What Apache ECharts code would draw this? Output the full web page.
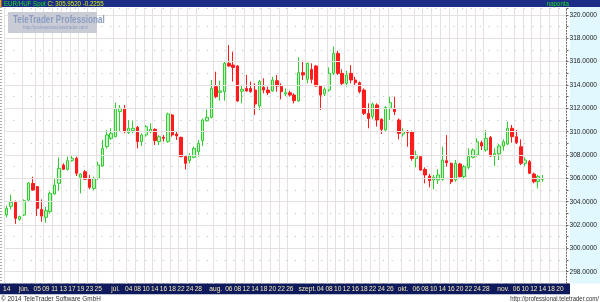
<!DOCTYPE html>
<html>
<head>
<meta charset="utf-8">
<script src="https://cdn.jsdelivr.net/npm/echarts@6/dist/echarts.min.js"></script>
<style>html,body{margin:0;padding:0;background:#fff;overflow:hidden}#c{width:600px;height:302px}</style>
</head>
<body>
<div id="c"></div>
<script>
// Trading days (categories); the last five are empty future slots
const dates = [
  '2014-05-27','2014-05-28','2014-05-29','2014-05-30',
  '2014-06-02','2014-06-03','2014-06-04','2014-06-05','2014-06-06','2014-06-09','2014-06-10','2014-06-11','2014-06-12','2014-06-13',
  '2014-06-16','2014-06-17','2014-06-18','2014-06-19','2014-06-20','2014-06-23','2014-06-24','2014-06-25','2014-06-26','2014-06-27','2014-06-30',
  '2014-07-01','2014-07-02','2014-07-03','2014-07-04','2014-07-07','2014-07-08','2014-07-09','2014-07-10','2014-07-11','2014-07-14','2014-07-15',
  '2014-07-16','2014-07-17','2014-07-18','2014-07-21','2014-07-22','2014-07-23','2014-07-24','2014-07-25','2014-07-28','2014-07-29','2014-07-30','2014-07-31',
  '2014-08-01','2014-08-04','2014-08-05','2014-08-06','2014-08-07','2014-08-08','2014-08-11','2014-08-12','2014-08-13','2014-08-14','2014-08-15',
  '2014-08-18','2014-08-19','2014-08-20','2014-08-21','2014-08-22','2014-08-25','2014-08-26','2014-08-27','2014-08-28','2014-08-29',
  '2014-09-01','2014-09-02','2014-09-03','2014-09-04','2014-09-05','2014-09-08','2014-09-09','2014-09-10','2014-09-11','2014-09-12','2014-09-15',
  '2014-09-16','2014-09-17','2014-09-18','2014-09-19','2014-09-22','2014-09-23','2014-09-24','2014-09-25','2014-09-26','2014-09-29','2014-09-30',
  '2014-10-01','2014-10-02','2014-10-03','2014-10-06','2014-10-07','2014-10-08','2014-10-09','2014-10-10','2014-10-13','2014-10-14','2014-10-15',
  '2014-10-16','2014-10-17','2014-10-20','2014-10-21','2014-10-22','2014-10-23','2014-10-24','2014-10-27','2014-10-28','2014-10-29','2014-10-30','2014-10-31',
  '2014-11-03','2014-11-04','2014-11-05','2014-11-06','2014-11-07','2014-11-10','2014-11-11','2014-11-12','2014-11-13','2014-11-14',
  '2014-11-17','2014-11-18','2014-11-19','2014-11-20','2014-11-21'
];

const opens = [
  302.86,303.60,303.95,302.49,302.86,304.14,305.57,305.29,303.34,302.66,
  303.14,304.66,305.57,307.14,306.77,307.52,307.72,306.09,306.57,306.00,
  305.14,306.00,307.06,308.72,309.43,309.57,311.72,312.00,309.92,310.09,
  310.37,309.15,309.72,310.00,310.20,309.15,309.52,309.15,311.43,309.80,
  309.52,307.86,307.52,307.80,308.29,309.23,310.94,311.23,313.86,313.37,
  313.43,315.86,315.71,315.63,313.46,313.71,313.71,313.57,312.20,313.80,
  313.57,313.49,314.37,313.86,313.23,313.34,313.14,312.63,315.06,314.49,
  315.34,315.63,313.91,313.23,313.57,315.00,316.71,315.00,314.14,315.00,
  314.43,314.20,313.57,311.57,311.29,312.29,311.06,310.14,312.00,312.00,
  311.00,309.80,310.00,310.00,307.71,307.86,306.77,306.20,305.86,305.86,
  305.91,307.51,307.29,305.86,307.23,306.14,306.94,307.80,308.00,309.06,
  308.43,309.51,307.91,308.09,308.77,308.94,310.29,309.57,308.71,307.29,
  307.43,306.37,305.71,305.92
];
const closes = [
  303.43,303.95,302.57,302.72,304.09,305.60,305.00,303.43,302.77,303.23,
  304.72,305.43,306.86,306.77,307.52,307.72,306.43,306.37,305.92,305.23,
  306.00,307.14,308.57,309.72,309.86,312.00,312.00,310.00,310.29,310.29,
  309.15,309.72,310.43,310.20,309.23,309.57,309.43,311.52,309.72,309.63,
  307.86,307.29,307.92,308.57,309.00,311.00,311.23,313.71,313.00,313.49,
  315.86,315.63,315.51,312.63,313.63,313.49,313.43,312.37,314.29,313.57,
  313.34,314.43,313.91,313.43,313.34,313.14,312.66,315.06,314.86,315.86,
  314.49,313.91,313.14,313.63,315.00,316.71,315.00,314.14,314.86,314.43,
  314.20,313.43,311.57,311.14,312.37,311.00,310.20,312.08,312.49,311.71,
  309.86,310.00,309.92,307.71,308.00,306.71,306.29,305.80,306.09,306.29,
  307.57,307.34,305.71,307.29,306.14,307.00,307.86,308.43,309.14,308.77,
  309.43,307.91,308.14,308.77,309.14,310.29,309.57,309.06,307.29,307.57,
  306.43,305.71,306.1775,305.952
];
const lows = [
  302.65,303.35,302.10,302.37,302.77,304.00,304.94,302.77,302.29,302.20,
  303.00,304.60,304.95,306.72,306.66,307.43,306.20,304.72,305.86,305.06,
  305.00,305.86,307.00,308.57,309.29,309.52,310.00,309.86,309.80,309.86,
  308.57,308.77,309.57,309.86,308.86,308.86,309.15,309.06,309.57,309.29,
  307.80,306.77,307.29,307.72,307.86,308.77,310.86,311.14,312.86,312.66,
  312.66,315.57,314.29,312.57,312.43,313.43,313.34,311.43,311.86,313.29,
  313.14,313.43,313.43,312.77,313.06,313.00,312.43,312.57,314.43,314.14,
  314.14,313.86,311.86,313.06,313.43,314.86,314.86,314.00,313.86,314.14,
  314.00,313.29,311.43,310.29,311.06,310.43,309.80,310.00,311.00,311.43,
  309.34,309.57,308.71,307.52,306.94,306.66,305.57,305.23,305.06,305.52,
  305.80,307.00,305.51,305.71,306.08,305.91,306.77,307.71,307.86,308.43,
  308.29,307.86,307.06,307.57,308.37,308.86,309.06,308.94,307.14,307.06,
  306.37,305.57,305.14,305.71
];
const highs = [
  303.65,304.60,304.10,302.80,304.20,305.68,306.14,305.34,304.20,303.57,
  304.86,306.00,307.80,307.29,307.86,307.92,307.86,306.43,306.72,306.29,
  306.14,307.43,309.29,310.14,310.29,312.49,312.29,312.29,311.00,310.95,
  310.49,309.86,310.57,310.72,310.29,309.72,309.72,311.63,311.52,310.00,
  309.57,308.00,308.15,308.72,309.29,311.14,311.91,314.43,315.14,314.37,
  316.00,317.43,316.86,315.71,314.00,314.86,314.29,314.14,314.43,314.57,
  313.86,314.71,314.86,314.14,313.71,313.51,313.29,316.37,316.08,315.91,
  315.86,315.71,314.00,313.80,315.51,317.29,316.94,315.34,315.23,315.71,
  314.71,314.29,313.71,312.43,312.49,312.43,311.14,312.20,313.00,313.00,
  311.14,310.29,310.14,310.09,308.37,308.00,306.94,306.37,306.29,306.77,
  308.71,309.71,307.34,307.57,307.34,307.14,308.57,308.57,309.43,309.23,
  310.14,309.63,308.57,308.94,309.34,310.86,310.57,310.14,309.34,307.80,
  307.57,306.49,306.29,306.29
];

// Date-axis tick labels shown in the bottom bar
const tickLabels = [
  ['2014-05-27','14'],
  ['2014-06-02','jún.'],['2014-06-05','05'],['2014-06-09','09'],['2014-06-11','11'],['2014-06-13','13'],
  ['2014-06-17','17'],['2014-06-19','19'],['2014-06-23','23'],['2014-06-25','25'],
  ['2014-07-01','júl.'],['2014-07-04','04'],['2014-07-08','08'],['2014-07-10','10'],['2014-07-14','14'],
  ['2014-07-16','16'],['2014-07-18','18'],['2014-07-22','22'],['2014-07-24','24'],['2014-07-28','28'],
  ['2014-08-01','aug.'],['2014-08-06','06'],['2014-08-08','08'],['2014-08-12','12'],['2014-08-14','14'],
  ['2014-08-18','18'],['2014-08-20','20'],['2014-08-22','22'],['2014-08-26','26'],
  ['2014-09-01','szept.'],['2014-09-04','04'],['2014-09-08','08'],['2014-09-10','10'],['2014-09-12','12'],
  ['2014-09-16','16'],['2014-09-18','18'],['2014-09-22','22'],['2014-09-24','24'],['2014-09-26','26'],
  ['2014-10-01','okt.'],['2014-10-06','06'],['2014-10-08','08'],['2014-10-10','10'],['2014-10-14','14'],
  ['2014-10-16','16'],['2014-10-20','20'],['2014-10-22','22'],['2014-10-24','24'],['2014-10-28','28'],
  ['2014-11-03','nov.'],['2014-11-06','06'],['2014-11-10','10'],['2014-11-12','12'],['2014-11-14','14'],
  ['2014-11-18','18'],['2014-11-20','20']
];

const labelMap = new Map(tickLabels);
const ohlc = opens.map((o, i) => [o, closes[i], lows[i], highs[i]]);
const last = closes[closes.length - 1];
const change = last - closes[closes.length - 2];
const FONT = 'Liberation Sans, Arial, sans-serif';

const chart = echarts.init(document.getElementById('c'), null, {renderer: 'canvas'});
chart.setOption({
  animation: false,
  backgroundColor: '#ffffff',
  grid: {left: 3.5, top: 8, width: 566.3, height: 275.36, containLabel: false},
  xAxis: {
    type: 'category', data: dates, boundaryGap: true, z: 10,
    axisLine: {show: false}, axisTick: {show: false},
    axisLabel: {
      interval: (i, v) => labelMap.has(v),
      formatter: v => labelMap.get(v) || '',
      color: '#f4e9b4', fontSize: 6.6, fontFamily: FONT, margin: 2.5, hideOverlap: false
    },
    splitLine: {show: true, interval: (i, v) => labelMap.has(v), lineStyle: {color: '#e6e0e0', width: 1}}
  },
  yAxis: [
    {
      type: 'value', position: 'right', min: 297, max: 320.6, interval: 1, z: 10,
      axisLine: {show: true, lineStyle: {color: '#666', type: [1, 2]}},
      axisTick: {show: true, length: 2, lineStyle: {color: '#666'}},
      axisLabel: {
        formatter: v => (Math.abs(v % 2) < 1e-9 ? v.toFixed(4) : ''),
        fontSize: 6.6, color: '#222', margin: 3, fontFamily: FONT
      },
      splitLine: {show: true, lineStyle: {color: ['transparent', '#e6e0e0'], width: 1}}
    },
    {
      type: 'value', position: 'right', min: 297, max: 320.6, interval: 1,
      axisLine: {show: false}, axisTick: {show: false}, axisLabel: {show: false},
      splitLine: {show: true, lineStyle: {color: ['#bdbdbd', 'transparent'], type: [1, 7.8], width: 1}}
    }
  ],
  series: [{
    type: 'candlestick', data: ohlc, barWidth: 3,
    itemStyle: {color: '#c6f5c6', borderColor: '#2fcf2f', color0: '#ff1c1c', borderColor0: '#ff1c1c', borderWidth: 1},
    markLine: {
      silent: true, symbol: 'none', animation: false,
      data: [{yAxis: last}],
      lineStyle: {opacity: 0},
      label: {
        position: 'end', distance: 2, formatter: p => Number(p.value).toFixed(4),
        backgroundColor: '#ffff00', color: '#222', fontSize: 6.6, fontFamily: FONT, padding: [1, 1, 0, 1]
      }
    }
  }],
  graphic: [
    // right price panel
    {type: 'rect', shape: {x: 570, y: 7, width: 30, height: 276.4}, style: {fill: '#e2f8ff'}, z: 1, silent: true},
    // left dotted border
    {type: 'line', shape: {x1: 1, y1: 7, x2: 1, y2: 283}, style: {stroke: '#555', lineDash: [1, 2], lineWidth: 1}, z: 5, silent: true},
    // header bar
    {type: 'rect', shape: {x: 0, y: 0, width: 600, height: 7}, style: {fill: '#1b2d86'}, z: 50, silent: true},
    {type: 'rect', shape: {x: 0, y: 0, width: 1.5, height: 7}, style: {fill: '#e8a020'}, z: 51, silent: true},
    {
      type: 'text', x: 4, y: 3.8, scaleX: 0.88, z: 52, silent: true,
      style: {
        text: '{a|EUR/HUF Spot} {b|C: ' + last.toFixed(4) + ' ' + change.toFixed(4) + '}',
        verticalAlign: 'middle', font: '7px ' + FONT,
        rich: {a: {fill: '#22dd22', fontSize: 7, fontFamily: FONT}, b: {fill: '#d8ec10', fontSize: 7, fontFamily: FONT}}
      }
    },
    {type: 'text', x: 569, y: 3.8, scaleX: 0.88, z: 52, silent: true,
      style: {text: 'naponta', fill: '#22dd22', font: '7px ' + FONT, align: 'right', verticalAlign: 'middle'}},
    // watermark
    {type: 'rect', shape: {x: 8, y: 12, width: 89, height: 21}, style: {fill: '#c9ccd5'}, z: 20, silent: true},
    {type: 'text', x: 13, y: 19.5, scaleX: 0.74, z: 21, silent: true,
      style: {text: 'TeleTrader Professional', fill: '#8a9cc0', font: 'bold 11px ' + FONT, verticalAlign: 'middle'}},
    {type: 'text', x: 23, y: 27.5, scaleX: 0.8, z: 21, silent: true,
      style: {text: 'http://professional.teletrader.com/', fill: '#8a9cc0', font: '5.5px ' + FONT, verticalAlign: 'middle'}},
    // bottom date bar
    {type: 'rect', shape: {x: 0, y: 283.4, width: 570, height: 10.8}, style: {fill: '#0e1a5c'}, z: 5, silent: true},
    // footer
    {type: 'text', x: 1, y: 298.5, scaleX: 0.85, z: 52, silent: true,
      style: {text: '© 2014 TeleTrader Software GmbH', fill: '#333', font: '7.5px ' + FONT, verticalAlign: 'middle'}},
    {type: 'text', x: 599, y: 298.5, scaleX: 0.8, z: 52, silent: true,
      style: {text: 'http://professional.teletrader.com/', fill: '#333', font: '7.5px ' + FONT, align: 'right', verticalAlign: 'middle'}}
  ]
});
</script>
</body>
</html>
